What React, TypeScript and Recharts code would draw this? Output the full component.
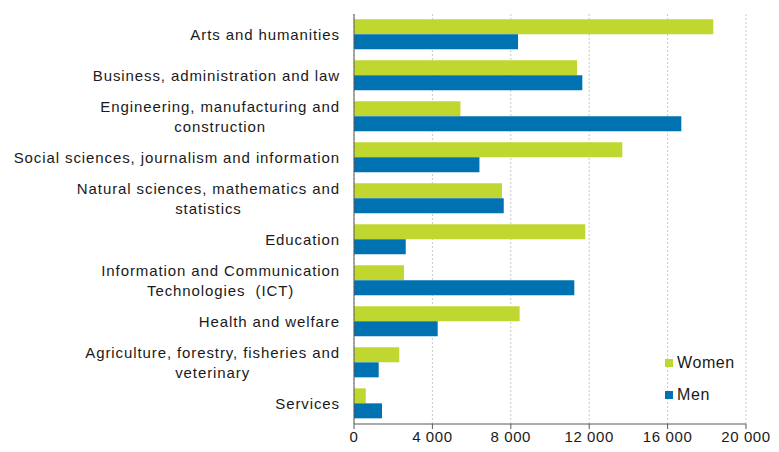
import React from "react";
import { BarChart, Bar, XAxis, YAxis, CartesianGrid, Legend } from "recharts";

// Graduates by field of education and gender
const categories = [
  "Arts and humanities",
  "Business, administration and law",
  "Engineering, manufacturing and\nconstruction",
  "Social sciences, journalism and information",
  "Natural sciences, mathematics and\nstatistics",
  "Education",
  "Information and Communication\nTechnologies  (ICT)",
  "Health and welfare",
  "Agriculture, forestry, fisheries and\nveterinary",
  "Services",
];
const women = [18330, 11380, 5430, 13690, 7550, 11800, 2550, 8450, 2310, 600];
const men = [8370, 11650, 16700, 6400, 7640, 2640, 11240, 4270, 1260, 1430];
const xTicks = [0, 4000, 8000, 12000, 16000, 20000];

const GREEN = "#C0D72F";
const BLUE = "#0072B1";
const FONT = "'Liberation Sans', Arial, sans-serif";
const FONT_SIZE = 15;
const LETTER_SPACING = 0.9;

const data = categories.map((name, i) => ({ name, women: women[i], men: men[i] }));

let ctx: CanvasRenderingContext2D | null = null;
const measure = (s: string) => {
  if (!ctx) {
    ctx = document.createElement("canvas").getContext("2d");
    if (ctx) {
      ctx.font = `${FONT_SIZE}px 'Liberation Sans'`;
      (ctx as any).letterSpacing = `${LETTER_SPACING}px`;
    }
  }
  return ctx ? ctx.measureText(s).width : s.length * 7.5;
};

const formatNum = (v: number) => String(v).replace(/\B(?=(\d{3})+(?!\d))/g, " ");

const CategoryTick = ({ x, y, payload }: any) => {
  const lines: string[] = String(payload.value).split("\n");
  const widths = lines.map(measure);
  const maxW = Math.max(...widths);
  const right = x - 6;
  const cx = right - maxW / 2;
  const lineH = 20;
  const startY = y - ((lines.length - 1) * lineH) / 2;
  return (
    <g>
      {lines.map((l, i) => (
        <text
          key={i}
          x={lines.length > 1 ? cx : right}
          y={startY + i * lineH}
          dy="0.35em"
          textAnchor={lines.length > 1 ? "middle" : "end"}
          fill="#1a1a1a"
          style={{
            fontFamily: FONT,
            fontSize: FONT_SIZE,
            letterSpacing: LETTER_SPACING,
            whiteSpace: "pre",
          }}
        >
          {l}
        </text>
      ))}
    </g>
  );
};

const LegendContent = () => (
  <div style={{ fontFamily: FONT, fontSize: 16, color: "#1a1a1a", letterSpacing: 0.6 }}>
    {[
      { label: "Women", color: GREEN },
      { label: "Men", color: BLUE },
    ].map((it) => (
      <div key={it.label} style={{ display: "flex", alignItems: "center", height: 32 }}>
        <span style={{ width: 8, height: 8, background: it.color, marginRight: 4 }} />
        <span>{it.label}</span>
      </div>
    ))}
  </div>
);

export default function App() {
  return (
    <div style={{ position: "absolute", left: 0, top: 0, background: "#fff" }}>
      <BarChart
        width={779}
        height={452}
        data={data}
        layout="vertical"
        margin={{ top: 14, right: 33, left: 0, bottom: 0 }}
        barCategoryGap="13%"
        barGap={0}
      >
        <CartesianGrid horizontal={false} stroke="#c9c9c9" strokeDasharray="2 2" />
        <XAxis
          type="number"
          domain={[0, 20000]}
          ticks={xTicks}
          tickFormatter={formatNum}
          height={28}
          tickSize={5}
          stroke="#595959"
          tick={{ fill: "#1a1a1a", fontFamily: FONT, fontSize: 15, letterSpacing: 0.6 } as any}
          interval={0}
        />
        <YAxis
          type="category"
          dataKey="name"
          width={354}
          tickLine={false}
          stroke="#595959"
          tick={<CategoryTick />}
          interval={0}
        />
        <Legend
          layout="vertical"
          align="center"
          verticalAlign="middle"
          content={<LegendContent />}
          wrapperStyle={{ left: 665, top: 347, width: 100, height: 64 }}
        />
        <Bar dataKey="women" name="Women" fill={GREEN} isAnimationActive={false} />
        <Bar dataKey="men" name="Men" fill={BLUE} isAnimationActive={false} />
      </BarChart>
    </div>
  );
}
